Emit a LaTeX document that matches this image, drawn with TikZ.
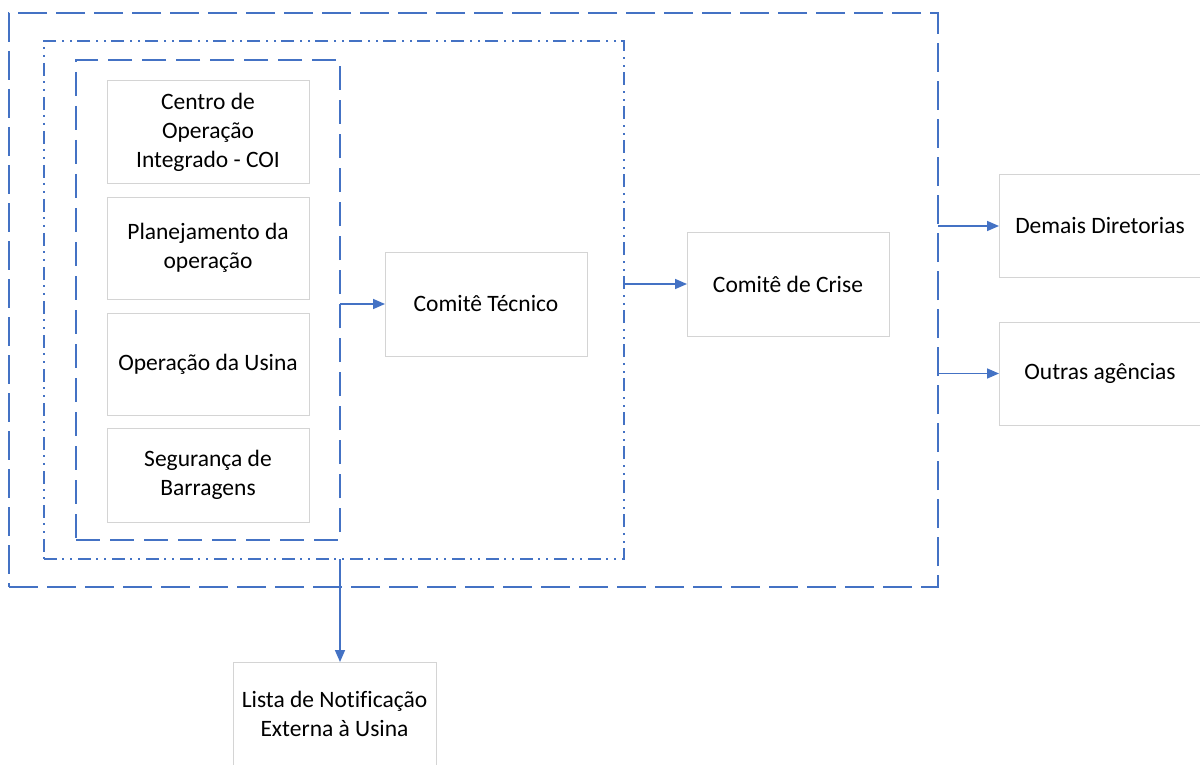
\documentclass[tikz,border=0pt]{standalone}
\usepackage{fontspec}
\setmainfont[Ligatures=NoCommon]{Carlito}
\usetikzlibrary{arrows.meta}
\definecolor{lineblue}{HTML}{4472C4}
\definecolor{boxgray}{HTML}{D4D4D4}
\begin{document}
\begin{tikzpicture}[x=1pt,y=-1pt,
 box/.style={draw=boxgray,line width=1pt,fill=white,align=center,inner sep=0pt,outer sep=0pt,
   minimum width=202pt,font=\fontsize{23.5}{29}\selectfont},
 frame/.style={draw=lineblue,line width=1.6pt,inner sep=0pt,outer sep=0pt},
 longdash/.style={dash pattern=on 29pt off 9pt},
 middash/.style={dash pattern=on 24pt off 10pt},
 dashdotdot/.style={dash pattern=on 13pt off 5pt on 2pt off 6pt on 2pt off 6pt},
 arr/.style={draw=lineblue,line width=1.6pt,-{Triangle[length=12pt,width=10pt]}}]
\useasboundingbox (0,0) rectangle (1200,765);
\fill[white] (0,0) rectangle (1200,765);
% frames
\node[frame,longdash,minimum width=929pt,minimum height=574pt] (outer) at (473.5,300) {};
\node[frame,dashdotdot,minimum width=580pt,minimum height=518pt] (mid) at (334,300) {};
\node[frame,middash,minimum width=264pt,minimum height=480pt] (inner) at (208,300) {};
% boxes
\node[box,minimum height=103pt] (coi) at (208,132.5) {Centro de\\Operação\\Integrado - COI};
\node[box,minimum height=102pt] (plan) at (208,248) {Planejamento da\\operação};
\node[box,minimum height=102pt] (oper) at (208,364) {Operação da Usina};
\node[box,minimum height=94pt] (seg) at (208,475) {Segurança de\\Barragens};
\node[box,minimum height=104pt] (tec) at (486,304) {Comitê Técnico};
\node[box,minimum height=104pt] (crise) at (788,284) {Comitê de Crise};
\node[box,minimum height=102pt] (demais) at (1100,226) {Demais Diretorias};
\node[box,minimum height=103pt] (outras) at (1100,373.5) {Outras agências};
\node[box,minimum width=203pt,minimum height=104pt] (lista) at (334.5,714) {Lista de Notificação\\Externa à Usina};
% connectors
\draw[arr] (inner.east |- tec.west) -- (tec.west);
\draw[arr] (mid.east |- crise.west) -- (crise.west);
\draw[arr] (outer.east |- demais.west) -- (demais.west);
\draw[arr] (outer.east |- outras.west) -- (outras.west);
\draw[arr] (mid.south -| inner.east) -- (lista.north -| inner.east);
\end{tikzpicture}
\end{document}
